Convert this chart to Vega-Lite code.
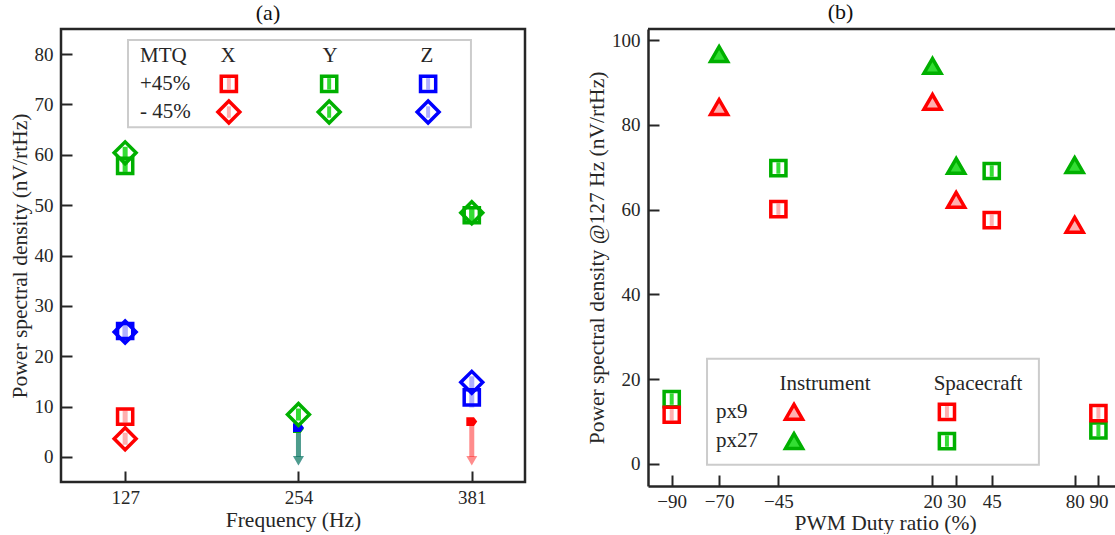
{
  "$schema": "https://vega.github.io/schema/vega-lite/v6.json",
  "background": "white",
  "padding": {"left": 7, "top": 0, "right": 0, "bottom": 0},
  "spacing": 123,
  "bounds": "flush",
  "resolve": {"scale": {"x": "independent", "y": "independent", "color": "independent", "fill": "independent", "stroke": "independent"}},
  "config": {
    "font": "Liberation Serif",
    "axis": {"labelFont": "Liberation Serif", "titleFont": "Liberation Serif", "labelFontSize": 19, "titleFontSize": 21.5, "titleFontWeight": "normal", "labelColor": "#262626", "titleColor": "#262626", "tickColor": "#262626", "domainColor": "#262626", "domainWidth": 2.5, "tickWidth": 2, "grid": false, "labelFlush": false, "labelOverlap": false},
    "title": {"font": "Liberation Serif", "fontSize": 22, "fontWeight": "normal", "color": "#111111"},
    "text": {"font": "Liberation Serif", "fontSize": 21, "fill": "#262626"}
  },
  "datasets": {
    "psd": [
      {"freq": 127, "axis": "X", "mtq": "+45%", "psd": 8.0, "lo": 6.8, "hi": 9.2},
      {"freq": 127, "axis": "X", "mtq": "-45%", "psd": 3.6, "lo": 2.4, "hi": 4.8},
      {"freq": 127, "axis": "Y", "mtq": "+45%", "psd": 57.8, "lo": 56.6, "hi": 59.0},
      {"freq": 127, "axis": "Y", "mtq": "-45%", "psd": 60.4, "lo": 58.0, "hi": 61.6},
      {"freq": 127, "axis": "Z", "mtq": "+45%", "psd": 25.0, "lo": 23.8, "hi": 26.2},
      {"freq": 127, "axis": "Z", "mtq": "-45%", "psd": 24.8, "lo": 23.6, "hi": 26.0},
      {"freq": 254, "axis": "Y", "mtq": "-45%", "psd": 8.4, "lo": 7.2, "hi": 9.6},
      {"freq": 381, "axis": "Y", "mtq": "+45%", "psd": 48.0, "lo": 46.8, "hi": 49.2},
      {"freq": 381, "axis": "Y", "mtq": "-45%", "psd": 48.5, "lo": 47.3, "hi": 49.7},
      {"freq": 381, "axis": "Z", "mtq": "+45%", "psd": 11.8, "lo": 9.8, "hi": 13.2},
      {"freq": 381, "axis": "Z", "mtq": "-45%", "psd": 14.8, "lo": 13.4, "hi": 16.0}
    ],
    "limits": [
      {"freq": 254, "axis": "Z", "psd": 5.8},
      {"freq": 254, "axis": "Y", "psd": 5.6},
      {"freq": 381, "axis": "X", "psd": 7.0}
    ],
    "duty": [
      {"duty": -70, "pixel": "px27", "source": "Instrument", "psd": 96.7},
      {"duty": 20, "pixel": "px27", "source": "Instrument", "psd": 93.9},
      {"duty": 30, "pixel": "px27", "source": "Instrument", "psd": 70.3},
      {"duty": 80, "pixel": "px27", "source": "Instrument", "psd": 70.5},
      {"duty": -70, "pixel": "px9", "source": "Instrument", "psd": 84.2},
      {"duty": 20, "pixel": "px9", "source": "Instrument", "psd": 85.4},
      {"duty": 30, "pixel": "px9", "source": "Instrument", "psd": 62.3},
      {"duty": 80, "pixel": "px9", "source": "Instrument", "psd": 56.4},
      {"duty": -90, "pixel": "px27", "source": "Spacecraft", "psd": 15.3},
      {"duty": -45, "pixel": "px27", "source": "Spacecraft", "psd": 69.8},
      {"duty": 45, "pixel": "px27", "source": "Spacecraft", "psd": 69.1},
      {"duty": 90, "pixel": "px27", "source": "Spacecraft", "psd": 7.9},
      {"duty": -90, "pixel": "px9", "source": "Spacecraft", "psd": 11.6},
      {"duty": -45, "pixel": "px9", "source": "Spacecraft", "psd": 60.1},
      {"duty": 45, "pixel": "px9", "source": "Spacecraft", "psd": 57.5},
      {"duty": 90, "pixel": "px9", "source": "Spacecraft", "psd": 12.0}
    ],
    "one": [{}]
  },
  "hconcat": [
    {
      "title": {"text": "(a)", "offset": 4, "dx": -25},
      "width": 464,
      "height": 453,
      "view": {"stroke": "#262626", "strokeWidth": 2.5},
      "resolve": {"scale": {"color": "independent"}},
      "layer": [
        {
          "data": {"name": "psd"},
          "mark": {"type": "rule", "strokeWidth": 5},
          "encoding": {
            "x": {"field": "freq", "type": "quantitative", "scale": {"domain": [80, 420], "nice": false, "zero": false},
                  "axis": {"title": "Frequency (Hz)", "values": [127, 254, 381], "domain": false, "tickSize": -11, "labelPadding": 17, "titlePadding": 2}},
            "y": {"field": "lo", "type": "quantitative", "scale": {"domain": [-5, 85], "nice": false, "zero": false},
                  "axis": {"title": "Power spectral density (nV/rtHz)", "values": [0, 10, 20, 30, 40, 50, 60, 70, 80], "domain": false, "tickSize": -11, "labelPadding": 19, "titlePadding": 3}},
            "y2": {"field": "hi"},
            "color": {"field": "axis", "type": "nominal", "scale": {"domain": ["X", "Y", "Z"], "range": ["#ffb0b0", "#33dd33", "#b0b0ff"]}, "legend": null}
          }
        },
        {
          "data": {"name": "limits"},
          "mark": {"type": "rule", "strokeWidth": 5, "opacity": 0.45},
          "encoding": {
            "x": {"field": "freq", "type": "quantitative"},
            "y": {"field": "psd", "type": "quantitative"},
            "y2": {"datum": 0},
            "color": {"field": "axis", "type": "nominal", "scale": {"domain": ["X", "Y", "Z"], "range": ["#ff0000", "#00b000", "#0000ff"]}, "legend": null}
          }
        },
        {
          "data": {"name": "limits"},
          "mark": {"type": "point", "shape": "triangle-down", "filled": true, "size": 120, "opacity": 0.45},
          "encoding": {
            "x": {"field": "freq", "type": "quantitative"},
            "y": {"datum": -0.8, "type": "quantitative"},
            "color": {"field": "axis", "type": "nominal", "scale": {"domain": ["X", "Y", "Z"], "range": ["#ff0000", "#00b000", "#0000ff"]}, "legend": null}
          }
        },
        {
          "data": {"name": "limits"},
          "mark": {"type": "point", "shape": "M-1,-0.8 L0.4,-0.8 L1,0 L0.4,0.8 L-1,0.8 Z", "filled": true, "size": 120, "opacity": 1},
          "encoding": {
            "x": {"field": "freq", "type": "quantitative"},
            "y": {"field": "psd", "type": "quantitative"},
            "order": {"field": "axis", "sort": "ascending"},
            "color": {"field": "axis", "type": "nominal", "scale": {"domain": ["X", "Y", "Z"], "range": ["#ff0000", "#00b000", "#0000ff"]}, "legend": null}
          }
        },
        {
          "data": {"name": "psd"},
          "transform": [{"filter": "datum.mtq === '+45%'"}],
          "mark": {"type": "point", "shape": "square", "filled": false, "strokeWidth": 3.5, "size": 230, "opacity": 1},
          "encoding": {
            "x": {"field": "freq", "type": "quantitative"},
            "y": {"field": "psd", "type": "quantitative"},
            "color": {"field": "axis", "type": "nominal", "scale": {"domain": ["X", "Y", "Z"], "range": ["#ff0000", "#00b000", "#0000ff"]}, "legend": null}
          }
        },
        {
          "data": {"name": "psd"},
          "transform": [{"filter": "datum.mtq === '-45%'"}],
          "mark": {"type": "point", "shape": "diamond", "filled": false, "strokeWidth": 3.5, "size": 480, "opacity": 1},
          "encoding": {
            "x": {"field": "freq", "type": "quantitative"},
            "y": {"field": "psd", "type": "quantitative"},
            "color": {"field": "axis", "type": "nominal", "scale": {"domain": ["X", "Y", "Z"], "range": ["#ff0000", "#00b000", "#0000ff"]}, "legend": null}
          }
        },
        {
          "data": {"name": "one"},
          "mark": {"type": "rect", "fill": "white", "stroke": "#cccccc", "strokeWidth": 2},
          "encoding": {"x": {"datum": 129.1, "type": "quantitative"}, "x2": {"datum": 380.4}, "y": {"datum": 82.8, "type": "quantitative"}, "y2": {"datum": 65.5}}
        },
        {"data": {"name": "one"}, "mark": {"type": "text", "text": "MTQ", "align": "left", "baseline": "middle"}, "encoding": {"x": {"datum": 137.9, "type": "quantitative"}, "y": {"datum": 79.7, "type": "quantitative"}}},
        {"data": {"name": "one"}, "mark": {"type": "text", "text": "X", "align": "center", "baseline": "middle"}, "encoding": {"x": {"datum": 202.4, "type": "quantitative"}, "y": {"datum": 79.7, "type": "quantitative"}}},
        {"data": {"name": "one"}, "mark": {"type": "text", "text": "Y", "align": "center", "baseline": "middle"}, "encoding": {"x": {"datum": 277.1, "type": "quantitative"}, "y": {"datum": 79.7, "type": "quantitative"}}},
        {"data": {"name": "one"}, "mark": {"type": "text", "text": "Z", "align": "center", "baseline": "middle"}, "encoding": {"x": {"datum": 348.2, "type": "quantitative"}, "y": {"datum": 79.7, "type": "quantitative"}}},
        {"data": {"name": "one"}, "mark": {"type": "text", "text": "+45%", "align": "left", "baseline": "middle"}, "encoding": {"x": {"datum": 137.9, "type": "quantitative"}, "y": {"datum": 74.1, "type": "quantitative"}}},
        {"data": {"name": "one"}, "mark": {"type": "text", "text": "- 45%", "align": "left", "baseline": "middle"}, "encoding": {"x": {"datum": 137.9, "type": "quantitative"}, "y": {"datum": 68.5, "type": "quantitative"}}},
        {"data": {"name": "one"}, "mark": {"type": "point", "shape": "M-0.35,-1 L0.35,-1 L0.35,1 L-0.35,1 Z", "filled": true, "size": 130, "opacity": 1},
         "encoding": {"x": {"datum": 203, "type": "quantitative"}, "y": {"datum": 74.1, "type": "quantitative"}, "color": {"datum": "X", "scale": {"domain": ["X", "Y", "Z"], "range": ["#ffb0b0", "#33dd33", "#b0b0ff"]}, "legend": null}}},
        {"data": {"name": "one"}, "mark": {"type": "point", "shape": "M-0.35,-1 L0.35,-1 L0.35,1 L-0.35,1 Z", "filled": true, "size": 130, "opacity": 1},
         "encoding": {"x": {"datum": 276.5, "type": "quantitative"}, "y": {"datum": 74.1, "type": "quantitative"}, "color": {"datum": "Y", "scale": {"domain": ["X", "Y", "Z"], "range": ["#ffb0b0", "#33dd33", "#b0b0ff"]}, "legend": null}}},
        {"data": {"name": "one"}, "mark": {"type": "point", "shape": "M-0.35,-1 L0.35,-1 L0.35,1 L-0.35,1 Z", "filled": true, "size": 130, "opacity": 1},
         "encoding": {"x": {"datum": 349, "type": "quantitative"}, "y": {"datum": 74.1, "type": "quantitative"}, "color": {"datum": "Z", "scale": {"domain": ["X", "Y", "Z"], "range": ["#ffb0b0", "#33dd33", "#b0b0ff"]}, "legend": null}}},
        {"data": {"name": "one"}, "mark": {"type": "point", "shape": "M-0.35,-1 L0.35,-1 L0.35,1 L-0.35,1 Z", "filled": true, "size": 130, "opacity": 1},
         "encoding": {"x": {"datum": 203, "type": "quantitative"}, "y": {"datum": 68.5, "type": "quantitative"}, "color": {"datum": "X", "scale": {"domain": ["X", "Y", "Z"], "range": ["#ffb0b0", "#33dd33", "#b0b0ff"]}, "legend": null}}},
        {"data": {"name": "one"}, "mark": {"type": "point", "shape": "M-0.35,-1 L0.35,-1 L0.35,1 L-0.35,1 Z", "filled": true, "size": 130, "opacity": 1},
         "encoding": {"x": {"datum": 276.5, "type": "quantitative"}, "y": {"datum": 68.5, "type": "quantitative"}, "color": {"datum": "Y", "scale": {"domain": ["X", "Y", "Z"], "range": ["#ffb0b0", "#33dd33", "#b0b0ff"]}, "legend": null}}},
        {"data": {"name": "one"}, "mark": {"type": "point", "shape": "M-0.35,-1 L0.35,-1 L0.35,1 L-0.35,1 Z", "filled": true, "size": 130, "opacity": 1},
         "encoding": {"x": {"datum": 349, "type": "quantitative"}, "y": {"datum": 68.5, "type": "quantitative"}, "color": {"datum": "Z", "scale": {"domain": ["X", "Y", "Z"], "range": ["#ffb0b0", "#33dd33", "#b0b0ff"]}, "legend": null}}},
        {"data": {"name": "one"}, "mark": {"type": "point", "shape": "square", "filled": false, "strokeWidth": 3.5, "size": 230, "opacity": 1},
         "encoding": {"x": {"datum": 203, "type": "quantitative"}, "y": {"datum": 74.1, "type": "quantitative"}, "color": {"datum": "X", "scale": {"domain": ["X", "Y", "Z"], "range": ["#ff0000", "#00b000", "#0000ff"]}, "legend": null}}},
        {"data": {"name": "one"}, "mark": {"type": "point", "shape": "square", "filled": false, "strokeWidth": 3.5, "size": 230, "opacity": 1},
         "encoding": {"x": {"datum": 276.5, "type": "quantitative"}, "y": {"datum": 74.1, "type": "quantitative"}, "color": {"datum": "Y", "scale": {"domain": ["X", "Y", "Z"], "range": ["#ff0000", "#00b000", "#0000ff"]}, "legend": null}}},
        {"data": {"name": "one"}, "mark": {"type": "point", "shape": "square", "filled": false, "strokeWidth": 3.5, "size": 230, "opacity": 1},
         "encoding": {"x": {"datum": 349, "type": "quantitative"}, "y": {"datum": 74.1, "type": "quantitative"}, "color": {"datum": "Z", "scale": {"domain": ["X", "Y", "Z"], "range": ["#ff0000", "#00b000", "#0000ff"]}, "legend": null}}},
        {"data": {"name": "one"}, "mark": {"type": "point", "shape": "diamond", "filled": false, "strokeWidth": 3.5, "size": 480, "opacity": 1},
         "encoding": {"x": {"datum": 203, "type": "quantitative"}, "y": {"datum": 68.5, "type": "quantitative"}, "color": {"datum": "X", "scale": {"domain": ["X", "Y", "Z"], "range": ["#ff0000", "#00b000", "#0000ff"]}, "legend": null}}},
        {"data": {"name": "one"}, "mark": {"type": "point", "shape": "diamond", "filled": false, "strokeWidth": 3.5, "size": 480, "opacity": 1},
         "encoding": {"x": {"datum": 276.5, "type": "quantitative"}, "y": {"datum": 68.5, "type": "quantitative"}, "color": {"datum": "Y", "scale": {"domain": ["X", "Y", "Z"], "range": ["#ff0000", "#00b000", "#0000ff"]}, "legend": null}}},
        {"data": {"name": "one"}, "mark": {"type": "point", "shape": "diamond", "filled": false, "strokeWidth": 3.5, "size": 480, "opacity": 1},
         "encoding": {"x": {"datum": 349, "type": "quantitative"}, "y": {"datum": 68.5, "type": "quantitative"}, "color": {"datum": "Z", "scale": {"domain": ["X", "Y", "Z"], "range": ["#ff0000", "#00b000", "#0000ff"]}, "legend": null}}}
      ]
    },
    {
      "title": {"text": "(b)", "offset": 4, "dx": -41},
      "width": 467,
      "height": 457,
      "view": {"stroke": null},
      "resolve": {"scale": {"color": "independent", "fill": "independent", "stroke": "independent"}},
      "layer": [
        {
          "data": {"name": "duty"},
          "transform": [{"filter": "datum.source === 'Spacecraft'"}],
          "mark": {"type": "point", "shape": "M-0.35,-1 L0.35,-1 L0.35,1 L-0.35,1 Z", "filled": true, "size": 130, "opacity": 1},
          "encoding": {
            "x": {"field": "duty", "type": "quantitative", "scale": {"domain": [-100, 97], "nice": false, "zero": false},
                  "axis": {"title": "PWM Duty ratio (%)", "values": [-90, -70, -45, 20, 30, 45, 80, 90], "tickSize": -11, "labelPadding": 17, "titlePadding": 1, "titleX": 237}},
            "y": {"field": "psd", "type": "quantitative", "scale": {"domain": [-5.2, 102.6], "nice": false, "zero": false},
                  "axis": {"title": "Power spectral density @127 Hz (nV/rtHz)", "values": [0, 20, 40, 60, 80, 100], "tickSize": -11, "labelPadding": 19, "titlePadding": 3}},
            "color": {"field": "pixel", "type": "nominal", "scale": {"domain": ["px9", "px27"], "range": ["#ffb0b0", "#33dd33"]}, "legend": null}
          }
        },
        {
          "data": {"name": "duty"},
          "transform": [{"filter": "datum.source === 'Spacecraft'"}],
          "mark": {"type": "point", "shape": "square", "filled": false, "strokeWidth": 3.5, "size": 230, "opacity": 1},
          "encoding": {
            "x": {"field": "duty", "type": "quantitative"},
            "y": {"field": "psd", "type": "quantitative"},
            "color": {"field": "pixel", "type": "nominal", "scale": {"domain": ["px9", "px27"], "range": ["#ff0000", "#00b000"]}, "legend": null}
          }
        },
        {
          "data": {"name": "duty"},
          "transform": [{"filter": "datum.source === 'Instrument'"}],
          "mark": {"type": "point", "shape": "triangle-up", "filled": true, "strokeWidth": 3.5, "size": 290, "opacity": 1},
          "encoding": {
            "x": {"field": "duty", "type": "quantitative"},
            "y": {"field": "psd", "type": "quantitative"},
            "fill": {"field": "pixel", "type": "nominal", "scale": {"domain": ["px9", "px27"], "range": ["#ffb0b0", "#33dd33"]}, "legend": null},
            "stroke": {"field": "pixel", "type": "nominal", "scale": {"domain": ["px9", "px27"], "range": ["#ff0000", "#00b000"]}, "legend": null}
          }
        },
        {
          "data": {"name": "one"},
          "mark": {"type": "rule", "strokeWidth": 2.5, "color": "#262626"},
          "encoding": {"x": {"datum": -100, "type": "quantitative"}, "x2": {"datum": 97}, "y": {"datum": 102.6, "type": "quantitative"}}
        },
        {
          "data": {"name": "one"},
          "mark": {"type": "rect", "fill": "white", "stroke": "#cccccc", "strokeWidth": 2},
          "encoding": {"x": {"datum": -75.1, "type": "quantitative"}, "x2": {"datum": 64.9}, "y": {"datum": 24.8, "type": "quantitative"}, "y2": {"datum": -0.2}}
        },
        {"data": {"name": "one"}, "mark": {"type": "text", "text": "Instrument", "align": "center", "baseline": "middle"}, "encoding": {"x": {"datum": -25.3, "type": "quantitative"}, "y": {"datum": 18.9, "type": "quantitative"}}},
        {"data": {"name": "one"}, "mark": {"type": "text", "text": "Spacecraft", "align": "center", "baseline": "middle"}, "encoding": {"x": {"datum": 39.2, "type": "quantitative"}, "y": {"datum": 18.9, "type": "quantitative"}}},
        {"data": {"name": "one"}, "mark": {"type": "text", "text": "px9", "align": "left", "baseline": "middle"}, "encoding": {"x": {"datum": -71.3, "type": "quantitative"}, "y": {"datum": 12.3, "type": "quantitative"}}},
        {"data": {"name": "one"}, "mark": {"type": "text", "text": "px27", "align": "left", "baseline": "middle"}, "encoding": {"x": {"datum": -71.3, "type": "quantitative"}, "y": {"datum": 5.4, "type": "quantitative"}}},
        {"data": {"name": "one"}, "mark": {"type": "point", "shape": "triangle-up", "filled": true, "strokeWidth": 3.5, "size": 290, "opacity": 1},
         "encoding": {"x": {"datum": -38.4, "type": "quantitative"}, "y": {"datum": 12.3, "type": "quantitative"},
                      "fill": {"datum": "px9", "scale": {"domain": ["px9", "px27"], "range": ["#ffb0b0", "#33dd33"]}, "legend": null},
                      "stroke": {"datum": "px9", "scale": {"domain": ["px9", "px27"], "range": ["#ff0000", "#00b000"]}, "legend": null}}},
        {"data": {"name": "one"}, "mark": {"type": "point", "shape": "triangle-up", "filled": true, "strokeWidth": 3.5, "size": 290, "opacity": 1},
         "encoding": {"x": {"datum": -38.4, "type": "quantitative"}, "y": {"datum": 5.4, "type": "quantitative"},
                      "fill": {"datum": "px27", "scale": {"domain": ["px9", "px27"], "range": ["#ffb0b0", "#33dd33"]}, "legend": null},
                      "stroke": {"datum": "px27", "scale": {"domain": ["px9", "px27"], "range": ["#ff0000", "#00b000"]}, "legend": null}}},
        {"data": {"name": "one"}, "mark": {"type": "point", "shape": "M-0.35,-1 L0.35,-1 L0.35,1 L-0.35,1 Z", "filled": true, "size": 130, "opacity": 1},
         "encoding": {"x": {"datum": 26.1, "type": "quantitative"}, "y": {"datum": 12.3, "type": "quantitative"}, "color": {"datum": "px9", "scale": {"domain": ["px9", "px27"], "range": ["#ffb0b0", "#33dd33"]}, "legend": null}}},
        {"data": {"name": "one"}, "mark": {"type": "point", "shape": "M-0.35,-1 L0.35,-1 L0.35,1 L-0.35,1 Z", "filled": true, "size": 130, "opacity": 1},
         "encoding": {"x": {"datum": 26.1, "type": "quantitative"}, "y": {"datum": 5.4, "type": "quantitative"}, "color": {"datum": "px27", "scale": {"domain": ["px9", "px27"], "range": ["#ffb0b0", "#33dd33"]}, "legend": null}}},
        {"data": {"name": "one"}, "mark": {"type": "point", "shape": "square", "filled": false, "strokeWidth": 3.5, "size": 230, "opacity": 1},
         "encoding": {"x": {"datum": 26.1, "type": "quantitative"}, "y": {"datum": 12.3, "type": "quantitative"}, "color": {"datum": "px9", "scale": {"domain": ["px9", "px27"], "range": ["#ff0000", "#00b000"]}, "legend": null}}},
        {"data": {"name": "one"}, "mark": {"type": "point", "shape": "square", "filled": false, "strokeWidth": 3.5, "size": 230, "opacity": 1},
         "encoding": {"x": {"datum": 26.1, "type": "quantitative"}, "y": {"datum": 5.4, "type": "quantitative"}, "color": {"datum": "px27", "scale": {"domain": ["px9", "px27"], "range": ["#ff0000", "#00b000"]}, "legend": null}}}
      ]
    }
  ]
}
